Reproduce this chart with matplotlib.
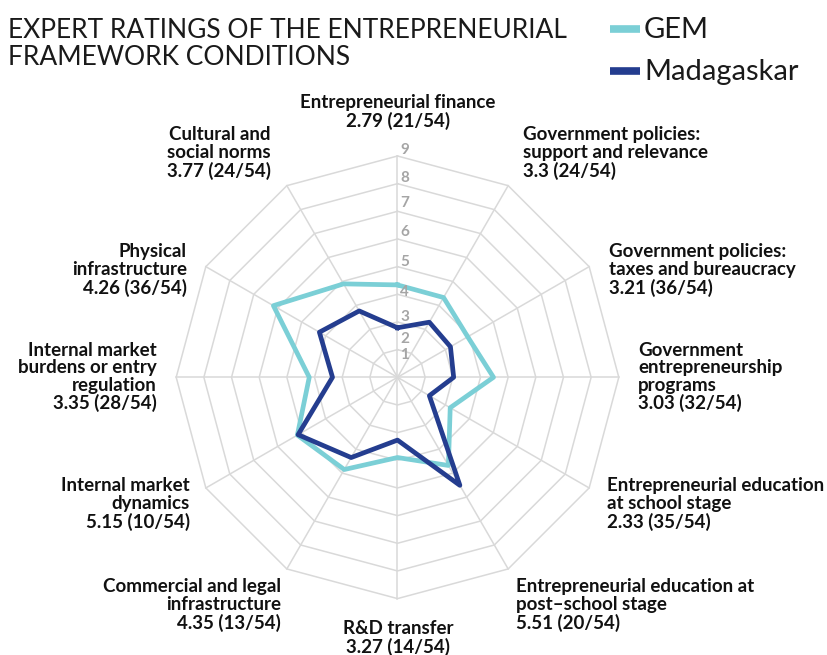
import numpy as np
import matplotlib
matplotlib.use("Agg")
import matplotlib.pyplot as plt
from matplotlib.lines import Line2D

# ---------------- data ----------------
categories = [
    "Entrepreneurial finance",
    "Government policies:\nsupport and relevance",
    "Government policies:\ntaxes and bureaucracy",
    "Government\nentrepreneurship\nprograms",
    "Entrepreneurial education\nat school stage",
    "Entrepreneurial education at\npost\u2013school stage",
    "R&D transfer",
    "Commercial and legal\ninfrastructure",
    "Internal market\ndynamics",
    "Internal market\nburdens or entry\nregulation",
    "Physical\ninfrastructure",
    "Cultural and\nsocial norms",
]
madagaskar = [2.79, 3.3, 3.21, 3.03, 2.33, 5.51, 3.27, 4.35, 5.15, 3.35, 4.26, 3.77]
ranks = ["21/54", "24/54", "36/54", "32/54", "35/54", "20/54",
         "14/54", "13/54", "10/54", "28/54", "36/54", "24/54"]
gem = [4.34, 4.33, 3.93, 4.47, 3.2, 4.68, 3.9, 4.85, 5.18, 4.19, 6.18, 4.9]
series_names = ["GEM", "Madagaskar"]
ticks = [1, 2, 3, 4, 5, 6, 7, 8, 9]
title = "EXPERT RATINGS OF THE ENTREPRENEURIAL\nFRAMEWORK CONDITIONS"

# ---------------- style / layout ----------------
W, H = 828, 655
C_GEM = "#7BCFD6"
C_MAD = "#243D8F"
C_GRID = "#D9D9D9"
C_TICK = "#A5A5A5"
FONT = ["Lato", "DejaVu Sans"]

# tick label radial positions (where the reference draws them)
tick_label_r = [1.80, 2.37, 3.19, 4.07, 5.18, 6.24, 7.29, 8.22, 9.20]

# category label anchors in pixel coordinates (x, y from top, ha)
label_pos = [
    (398, 112, "center"),
    (523, 153, "left"),
    (609, 270, "left"),
    (638, 377, "left"),
    (607, 504, "left"),
    (516, 605, "left"),
    (398, 638, "center"),
    (281, 605, "right"),
    (190, 504, "right"),
    (157, 377, "right"),
    (187, 270, "right"),
    (271, 153, "right"),
]


def fx(x):
    return x / W


def fy(y):
    return 1 - y / H


fig = plt.figure(figsize=(W / 100, H / 100), dpi=100)
fig.patch.set_facecolor("white")

cx, cy, R = 397.5, 377.3, 221.3
ax = fig.add_axes([fx(cx - R), fy(cy + R), 2 * R / W, 2 * R / H], projection="polar")
ax.set_theta_zero_location("N")
ax.set_theta_direction(-1)
ax.set_ylim(1, 9)
ax.set_axis_off()

n = len(categories)
theta = np.deg2rad(np.arange(n) * 360.0 / n)
theta_c = np.append(theta, theta[0])

# polygon grid
for k in ticks[1:]:
    ax.plot(theta_c, [k] * (n + 1), color=C_GRID, lw=1.1, zorder=1, clip_on=False)
for t in theta:
    ax.plot([t, t], [1, 9], color=C_GRID, lw=1.1, zorder=1, clip_on=False)

# series
ax.plot(theta_c, gem + gem[:1], color=C_GEM, lw=3.4, zorder=3,
        solid_joinstyle="round", clip_on=False)
ax.plot(theta_c, madagaskar + madagaskar[:1], color=C_MAD, lw=3.4, zorder=4,
        solid_joinstyle="round", clip_on=False)

# radial tick labels
for tk, rr in zip(ticks, tick_label_r):
    y = cy - (rr - 1) / 8 * R
    fig.text(fx(cx + 3), fy(y), str(tk), ha="left", va="center",
             fontsize=11, fontweight="bold", color=C_TICK, family=FONT)

# category labels
for name, v, rk, (x, y, ha) in zip(categories, madagaskar, ranks, label_pos):
    fig.text(fx(x), fy(y), f"{name}\n{v:g} ({rk})", ha=ha, va="center",
             fontsize=13.5, fontweight="bold", color="#111111", family=FONT,
             linespacing=1.04)

# title
fig.text(fx(8), fy(44), title, ha="left", va="center", fontsize=19,
         color="#1a1a1a", family=FONT, linespacing=1.12)

# legend
for i, (nm, col) in enumerate(zip(series_names, [C_GEM, C_MAD])):
    yy = 29 + i * 42
    fig.add_artist(Line2D([fx(610), fx(640)], [fy(yy), fy(yy)], color=col,
                          lw=5.5, solid_capstyle="butt", transform=fig.transFigure))
    fig.text(fx(644), fy(yy + 1), nm, ha="left", va="center", fontsize=21,
             color="#1a1a1a", family=FONT)

fig.savefig("out.png", dpi=100, facecolor="white")
